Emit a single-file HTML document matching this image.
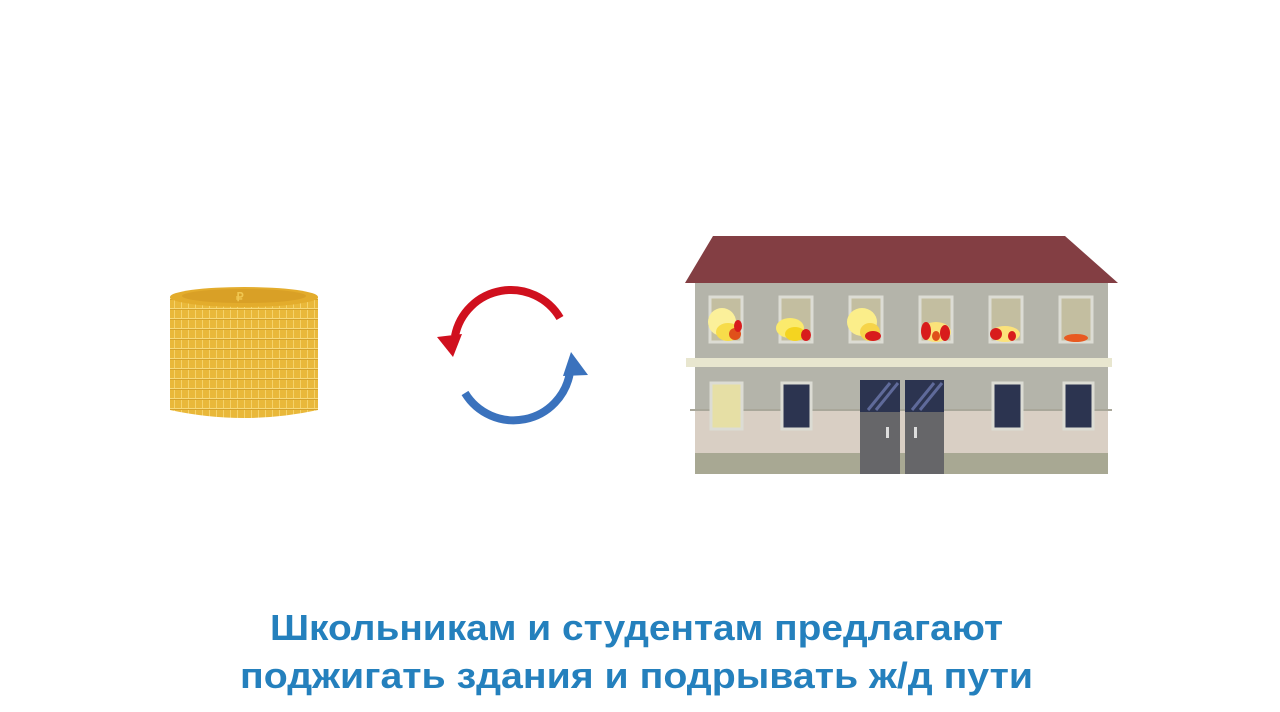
<!DOCTYPE html>
<html><head><meta charset="utf-8"><style>
html,body{margin:0;padding:0;background:#fff;}
svg{display:block}
</style></head><body>
<svg width="1280" height="712" viewBox="0 0 1280 712" xmlns="http://www.w3.org/2000/svg">
<rect width="1280" height="712" fill="#fff"/>
<defs>
<pattern id="cg" width="7" height="10" patternUnits="userSpaceOnUse">
<rect width="7" height="10" fill="#e9b83a"/>
<rect x="6" width="1" height="10" fill="#f5d26a"/>
<rect y="8" width="7" height="1" fill="#f7d978"/>
<rect y="9" width="7" height="1" fill="#d6a22c"/>
</pattern>
</defs>
<path d="M170 297 L170 410 Q244 426 318 410 L318 297 Z" fill="url(#cg)"/>
<ellipse cx="244" cy="297" rx="74" ry="10" fill="#e3ac2c"/>
<ellipse cx="244" cy="296" rx="62" ry="7" fill="#d9a026"/>
<text x="236" y="301" font-family="Liberation Sans,sans-serif" font-size="12" font-weight="bold" fill="#f0c650">₽</text>
<path d="M560 318 A57 57 0 0 0 455 336" fill="none" stroke="#d0101e" stroke-width="8"/>
<polygon points="437,337 462,334 453,357" fill="#d0101e"/>
<path d="M465 393 A57 57 0 0 0 570 372" fill="none" stroke="#3a72bd" stroke-width="8"/>
<polygon points="588,375 563,376 571,352" fill="#3a72bd"/>
<rect x="695" y="282" width="413" height="192" fill="#b4b4aa"/>
<rect x="695" y="410" width="413" height="43" fill="#d9cfc4"/>
<line x1="690" y1="410" x2="1112" y2="410" stroke="#a9a79a" stroke-width="2"/>
<rect x="695" y="453" width="413" height="21" fill="#a8a893"/>
<rect x="686" y="358" width="426" height="9" fill="#e8e6cf"/>
<polygon points="685,283 1118,283 1065,236 713,236" fill="#833e43"/>
<g fill="#c3bea0" stroke="#dcdcd4" stroke-width="3">
<rect x="710" y="297" width="32" height="45"/>
<rect x="780" y="297" width="32" height="45"/>
<rect x="850" y="297" width="32" height="45"/>
<rect x="920" y="297" width="32" height="45"/>
<rect x="990" y="297" width="32" height="45"/>
<rect x="1060" y="297" width="32" height="45"/>
<rect x="711" y="383" width="31" height="46" fill="#e6dfa5"/>
</g>
<g>
<ellipse cx="722" cy="322" rx="14" ry="14" fill="#fbf09a"/><ellipse cx="728" cy="332" rx="12" ry="9" fill="#f7dc4a"/><ellipse cx="735" cy="334" rx="6" ry="6" fill="#e0501a"/><ellipse cx="738" cy="326" rx="4" ry="6" fill="#d81c1c"/>
<ellipse cx="790" cy="328" rx="14" ry="10" fill="#fbea6c"/><ellipse cx="795" cy="334" rx="10" ry="7" fill="#f4d420"/><ellipse cx="806" cy="335" rx="5" ry="6" fill="#d81c1c"/>
<ellipse cx="862" cy="322" rx="15" ry="14" fill="#fbee8a"/><ellipse cx="870" cy="332" rx="10" ry="9" fill="#f6d44a"/><ellipse cx="873" cy="336" rx="8" ry="5" fill="#d81c1c"/>
<ellipse cx="936" cy="332" rx="15" ry="10" fill="#fbe27a"/><ellipse cx="926" cy="331" rx="5" ry="9" fill="#d81c1c"/><ellipse cx="945" cy="333" rx="5" ry="8" fill="#d81c1c"/><ellipse cx="936" cy="336" rx="4" ry="5" fill="#e0501a"/>
<ellipse cx="1005" cy="334" rx="15" ry="8" fill="#fbe27a"/><ellipse cx="996" cy="334" rx="6" ry="6" fill="#d81c1c"/><ellipse cx="1012" cy="336" rx="4" ry="5" fill="#d81c1c"/>
<ellipse cx="1076" cy="338" rx="12" ry="4" fill="#e85a20"/>
</g>
<g fill="#2c3450" stroke="#dcdcd4" stroke-width="3">
<rect x="782" y="383" width="29" height="46"/>
<rect x="993" y="383" width="29" height="46"/>
<rect x="1064" y="383" width="29" height="46"/>
</g>
<rect x="860" y="380" width="40" height="94" fill="#666669"/>
<rect x="905" y="380" width="39" height="94" fill="#666669"/>
<rect x="860" y="380" width="40" height="32" fill="#2c3450"/>
<rect x="905" y="380" width="39" height="32" fill="#2c3450"/>
<g stroke="#5f6a9a" stroke-width="3"><line x1="868" y1="410" x2="890" y2="383"/><line x1="876" y1="410" x2="898" y2="383"/><line x1="912" y1="410" x2="934" y2="383"/><line x1="920" y1="410" x2="942" y2="383"/></g>
<rect x="886" y="427" width="3" height="11" fill="#ddd"/><rect x="914" y="427" width="3" height="11" fill="#ddd"/>
<g font-family="Liberation Sans,DejaVu Sans,sans-serif" font-weight="bold" font-size="36" fill="#2480bd">
<text x="270" y="640" textLength="733" lengthAdjust="spacingAndGlyphs">Школьникам и студентам предлагают</text>
<text x="240" y="688" textLength="793" lengthAdjust="spacingAndGlyphs">поджигать здания и подрывать ж/д пути</text>
</g>
</svg>
</body></html>
